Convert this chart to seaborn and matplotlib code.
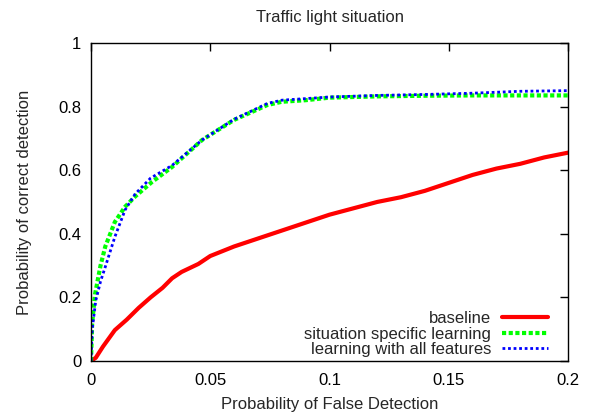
import matplotlib
matplotlib.use("Agg")
import matplotlib.pyplot as plt
import pandas as pd
import seaborn as sns

# ROC-style curves
baseline_x = [0, 0.002, 0.005, 0.01, 0.015, 0.02, 0.025, 0.03, 0.034, 0.038, 0.045, 0.05,
              0.06, 0.07, 0.08, 0.09, 0.1, 0.11, 0.12, 0.13, 0.14, 0.15, 0.16, 0.17,
              0.18, 0.19, 0.2]
baseline_y = [0, 0.01, 0.045, 0.097, 0.13, 0.167, 0.2, 0.23, 0.26, 0.28, 0.305, 0.33,
              0.36, 0.385, 0.41, 0.435, 0.46, 0.48, 0.5, 0.515, 0.535, 0.56, 0.585, 0.605,
              0.62, 0.64, 0.655]

situation_x = [0, 0.0005, 0.0017, 0.004, 0.006, 0.01, 0.0143, 0.0185, 0.0256, 0.034,
               0.0466, 0.06, 0.074, 0.08, 0.09, 0.1, 0.12, 0.14, 0.16, 0.18, 0.2]
situation_y = [0, 0.12, 0.21, 0.3, 0.36, 0.437, 0.485, 0.517, 0.563, 0.61,
               0.695, 0.758, 0.805, 0.815, 0.82, 0.828, 0.832, 0.834, 0.835, 0.835, 0.835]

allfeat_x = [0, 0.0005, 0.002, 0.004, 0.006, 0.01, 0.0143, 0.0185, 0.025, 0.034,
             0.0466, 0.06, 0.074, 0.08, 0.09, 0.1, 0.12, 0.14, 0.16, 0.18, 0.2]
allfeat_y = [0, 0.1, 0.19, 0.25, 0.296, 0.39, 0.475, 0.525, 0.575, 0.615,
             0.695, 0.76, 0.81, 0.82, 0.825, 0.83, 0.835, 0.838, 0.842, 0.848, 0.85]

x_ticks = [0, 0.05, 0.1, 0.15, 0.2]
x_labels = ["0", "0.05", "0.1", "0.15", "0.2"]
y_ticks = [0, 0.2, 0.4, 0.6, 0.8, 1]
y_labels = ["0", "0.2", "0.4", "0.6", "0.8", "1"]

sns.set_style("white")
plt.rcParams["font.family"] = ["Liberation Sans", "DejaVu Sans"]
fs = 12

fig = plt.figure(figsize=(5.92, 4.13), dpi=100)
ax = fig.add_axes([0.1537, 0.126, 0.8058, 0.77])

sns.lineplot(x=baseline_x, y=baseline_y, ax=ax, color="#ff0000", linewidth=3,
             label="baseline", sort=False)
sns.lineplot(x=situation_x, y=situation_y, ax=ax, color="#00ff00", linewidth=3,
             linestyle=(0, (1, 0.6)), label="situation specific learning", sort=False)
sns.lineplot(x=allfeat_x, y=allfeat_y, ax=ax, color="#0000ff", linewidth=2,
             linestyle=(0, (1, 1)), label="learning with all features", sort=False)

ax.set_xlim(0, 0.2)
ax.set_ylim(0, 1)
ax.set_xticks(x_ticks)
ax.set_xticklabels(x_labels)
ax.set_yticks(y_ticks)
ax.set_yticklabels(y_labels)
ax.tick_params(direction="in", length=6, width=1, top=True, right=True,
               colors="black", labelsize=fs)
ax.tick_params(axis="x", pad=9)
ax.tick_params(axis="y", pad=7)
for spine in ax.spines.values():
    spine.set_color("black")
    spine.set_linewidth(1)

ax.set_xlabel("Probability of False Detection", fontsize=fs, labelpad=6)
ax.set_ylabel("Probability of correct detection", fontsize=fs, labelpad=19)
ax.set_title("Traffic light situation", fontsize=fs, pad=15)

ax.legend(loc="lower right", bbox_to_anchor=(1 - 20 / 477, 4 / 318), frameon=False,
          markerfirst=False, handlelength=2.75, labelspacing=0.02, handletextpad=0.65,
          borderaxespad=0, borderpad=0, fontsize=fs)

fig.savefig("out.png", dpi=100)
